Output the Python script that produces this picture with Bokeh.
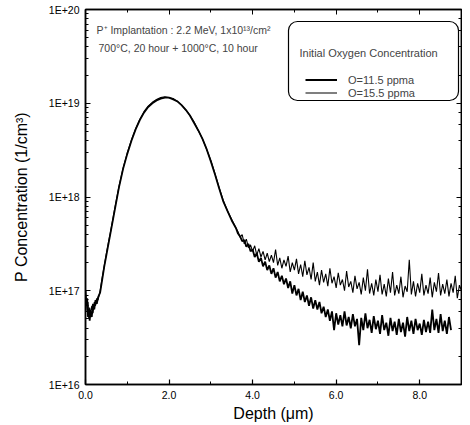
import numpy as np
from bokeh.plotting import figure
from bokeh.models import (LogAxis, LinearAxis, FixedTicker, LogTicker, CustomJSTickFormatter,
                          PrintfTickFormatter, Legend, LegendItem, Label, BoxAnnotation, Range1d)
from bokeh.embed import file_html
from bokeh.resources import INLINE

FONT = "Liberation Sans"

# ---- data (depth in um, concentration given as log10 of 1/cm^3) ----
head_depth = [0.00, 0.02, 0.04, 0.06, 0.08, 0.10, 0.12, 0.15, 0.18, 0.21,
              0.24, 0.27, 0.30, 0.35, 0.40, 0.45, 0.50, 0.55, 0.60, 0.70,
              0.80, 0.90, 1.00, 1.10, 1.20, 1.30, 1.40, 1.50, 1.60, 1.70,
              1.80, 1.90, 2.00, 2.10, 2.20, 2.30, 2.40, 2.50, 2.60, 2.70,
              2.80, 2.90, 3.00, 3.10, 3.20, 3.30, 3.40, 3.50, 3.60]
head_log_o115 = [17.00, 16.85, 16.92, 16.72, 16.80, 16.68, 16.78, 16.72, 16.86, 16.80,
                 16.90, 16.86, 16.93, 16.98, 17.12, 17.26, 17.38, 17.50, 17.62, 17.86,
                 18.10, 18.30, 18.46, 18.60, 18.72, 18.82, 18.90, 18.96, 19.00, 19.03,
                 19.05, 19.06, 19.06, 19.04, 19.02, 18.98, 18.93, 18.87, 18.79, 18.71,
                 18.62, 18.51, 18.38, 18.24, 18.09, 17.95, 17.85, 17.75, 17.67]
head_log_o155 = [16.95, 16.90, 16.78, 16.88, 16.70, 16.82, 16.74, 16.84, 16.76, 16.88,
                 16.84, 16.92, 16.90, 17.00, 17.14, 17.27, 17.40, 17.52, 17.63, 17.88,
                 18.11, 18.31, 18.47, 18.61, 18.73, 18.83, 18.91, 18.97, 19.01, 19.04,
                 19.06, 19.07, 19.06, 19.05, 19.02, 18.98, 18.93, 18.87, 18.80, 18.71,
                 18.62, 18.51, 18.39, 18.25, 18.10, 17.96, 17.85, 17.76, 17.67]

tail_depth = [3.65, 3.70, 3.75, 3.80, 3.85, 3.90, 3.95, 4.00, 4.05, 4.10,
              4.15, 4.20, 4.25, 4.30, 4.35, 4.40, 4.45, 4.50, 4.55, 4.60,
              4.65, 4.70, 4.75, 4.80, 4.85, 4.90, 4.95, 5.00, 5.05, 5.10,
              5.15, 5.20, 5.25, 5.30, 5.35, 5.40, 5.45, 5.50, 5.55, 5.60,
              5.65, 5.70, 5.75, 5.80, 5.85, 5.90, 5.95, 6.00, 6.05, 6.10,
              6.15, 6.20, 6.25, 6.30, 6.35, 6.40, 6.45, 6.50, 6.55, 6.60,
              6.65, 6.70, 6.75, 6.80, 6.85, 6.90, 6.95, 7.00, 7.05, 7.10,
              7.15, 7.20, 7.25, 7.30, 7.35, 7.40, 7.45, 7.50, 7.55, 7.60,
              7.65, 7.70, 7.75, 7.80, 7.85, 7.90, 7.95, 8.00, 8.05, 8.10,
              8.15, 8.20, 8.25, 8.30, 8.35, 8.40, 8.45, 8.50, 8.55, 8.60,
              8.65, 8.70, 8.75, 8.80, 8.85, 8.90, 8.95, 9.00]
tail_log_o155 = [17.63, 17.57, 17.60, 17.50, 17.55, 17.46, 17.49, 17.42, 17.48, 17.38,
                 17.45, 17.36, 17.42, 17.33, 17.40, 17.31, 17.38, 17.30, 17.44, 17.27,
                 17.35, 17.24, 17.33, 17.26, 17.37, 17.20, 17.30, 17.22, 17.34, 17.18,
                 17.28, 17.15, 17.32, 17.17, 17.25, 17.12, 17.30, 17.10, 17.20, 17.06,
                 17.22, 17.09, 17.18, 17.05, 17.24, 17.08, 17.15, 17.03, 17.19, 17.06,
                 17.12, 17.00, 17.21, 17.04, 17.10, 16.98, 17.16, 17.02, 17.09, 16.96,
                 17.14, 17.00, 17.23, 16.97, 17.08, 16.95, 17.12, 16.99, 17.17, 16.96,
                 17.07, 16.94, 17.13, 16.98, 17.20, 16.95, 17.06, 16.97, 17.15, 16.93,
                 17.05, 16.99, 17.33, 16.96, 17.10, 16.94, 17.08, 16.98, 17.18, 16.95,
                 17.06, 16.97, 17.14, 16.93, 17.09, 16.99, 17.19, 16.95, 17.07, 16.97,
                 17.12, 16.94, 17.08, 16.98, 17.16, 16.92, 17.06, 17.00]
tail_log_o115 = [17.61, 17.58, 17.53, 17.54, 17.47, 17.50, 17.42, 17.44, 17.36, 17.40,
                 17.31, 17.35, 17.26, 17.31, 17.22, 17.27, 17.18, 17.24, 17.14, 17.20,
                 17.10, 17.16, 17.07, 17.13, 17.03, 17.10, 16.97, 17.06, 16.95, 17.02,
                 16.90, 16.99, 16.88, 16.95, 16.84, 16.93, 16.81, 16.90, 16.80, 16.88,
                 16.76, 16.83, 16.72, 16.80, 16.68, 16.78, 16.58, 16.76, 16.64, 16.74,
                 16.62, 16.78, 16.63, 16.72, 16.60, 16.75, 16.62, 16.70, 16.42, 16.71,
                 16.58, 16.76, 16.60, 16.69, 16.55, 16.73, 16.59, 16.68, 16.54, 16.74,
                 16.58, 16.66, 16.52, 16.71, 16.57, 16.67, 16.53, 16.70, 16.56, 16.66,
                 16.51, 16.72, 16.57, 16.68, 16.54, 16.70, 16.58, 16.65, 16.53, 16.69,
                 16.56, 16.67, 16.55, 16.80, 16.58, 16.70, 16.55, 16.75, 16.57, 16.68,
                 16.54, 16.72, 16.58]

series_labels = ["O=11.5 ppma", "O=15.5 ppma"]
x_ticks = [0, 2, 4, 6, 8]
x_minor_ticks = [1, 3, 5, 7]

depth_o115 = head_depth + tail_depth[:len(tail_log_o115)]
conc_o115 = 10 ** np.array(head_log_o115 + tail_log_o115)
depth_o155 = head_depth + tail_depth
conc_o155 = 10 ** np.array(head_log_o155 + tail_log_o155)

# ---- figure ----
p = figure(width=462, height=424, output_backend="svg", toolbar_location=None,
           x_range=Range1d(0, 9), y_range=Range1d(1e16, 1e20), y_axis_type="log",
           min_border_left=85, min_border_right=1, min_border_top=9, min_border_bottom=36)
p.xgrid.visible = False
p.ygrid.visible = False
p.outline_line_color = "black"
p.outline_line_width = 1.5
p.background_fill_color = "white"
p.border_fill_color = "white"

xtick = FixedTicker(ticks=x_ticks, minor_ticks=x_minor_ticks)
xa = p.xaxis[0]
xa.ticker = xtick
xa.formatter = PrintfTickFormatter(format="%.1f")
xa.axis_label = "Depth (\u03bcm)"

ya = p.yaxis[0]
ya.formatter = CustomJSTickFormatter(code="return '1E+' + Math.round(Math.log10(tick));")
ya.axis_label = "P Concentration (1/cm\u00b3)"

for ax in (xa, ya):
    ax.major_tick_in = 5
    ax.major_tick_out = 0
    ax.minor_tick_in = 3
    ax.minor_tick_out = 0
    ax.axis_line_width = 1.5
    ax.major_tick_line_width = 1.2
    ax.major_label_text_font = FONT
    ax.major_label_text_font_size = "10.5px"
    ax.major_label_text_color = "black"
    ax.axis_label_text_font = FONT
    ax.axis_label_text_font_size = "16px"
    ax.axis_label_text_font_style = "normal"
    ax.axis_label_text_color = "black"
xa.major_label_standoff = 6
xa.axis_label_standoff = 3
ya.major_label_standoff = 6
ya.axis_label_standoff = 16

blank = CustomJSTickFormatter(code="return '';")
top_ax = LinearAxis(ticker=xtick, formatter=blank, major_label_text_font_size="1px",
                    major_label_standoff=0,
                    major_tick_in=5, major_tick_out=0, minor_tick_in=3, minor_tick_out=0,
                    axis_line_width=1.5)
right_ax = LogAxis(ticker=LogTicker(), formatter=blank, major_label_text_font_size="1px",
                   major_label_standoff=0,
                   major_tick_in=5, major_tick_out=0, minor_tick_in=3, minor_tick_out=0,
                   axis_line_width=1.5)
p.add_layout(top_ax, "above")
p.add_layout(right_ax, "right")

r155 = p.line(depth_o155, conc_o155, line_color="black", line_width=1.1)
r115 = p.line(depth_o115, conc_o115, line_color="black", line_width=1.8)

# legend box
box = BoxAnnotation(left=203, right=373, bottom=284, top=363,
                    left_units="screen", right_units="screen",
                    bottom_units="screen", top_units="screen",
                    fill_color="white", fill_alpha=1, line_color="black", line_alpha=1,
                    line_width=1.2, border_radius=9)
p.add_layout(box)

legend = Legend(items=[LegendItem(label=series_labels[0], renderers=[r115]),
                       LegendItem(label=series_labels[1], renderers=[r155])],
                location=(220, 285), padding=0, spacing=0, margin=0,
                glyph_width=32, glyph_height=13, label_height=13, label_standoff=11,
                label_text_font=FONT, label_text_font_size="11px",
                border_line_color=None, background_fill_alpha=0)
p.add_layout(legend)

p.add_layout(Label(x=214, y=332, x_units="screen", y_units="screen",
                   text="Initial Oxygen Concentration", text_font=FONT,
                   text_font_size="11px", text_baseline="middle"))
p.add_layout(Label(x=11, y=355, x_units="screen", y_units="screen",
                   text="P\u207a Implantation : 2.2 MeV, 1x10\u00b9\u00b3/cm\u00b2", text_font=FONT,
                   text_font_size="10.5px", text_baseline="middle"))
p.add_layout(Label(x=13, y=337, x_units="screen", y_units="screen",
                   text="700\u00b0C, 20 hour + 1000\u00b0C, 10 hour", text_font=FONT,
                   text_font_size="10.5px", text_baseline="middle"))

open("out.html", "w").write(file_html(p, INLINE))
